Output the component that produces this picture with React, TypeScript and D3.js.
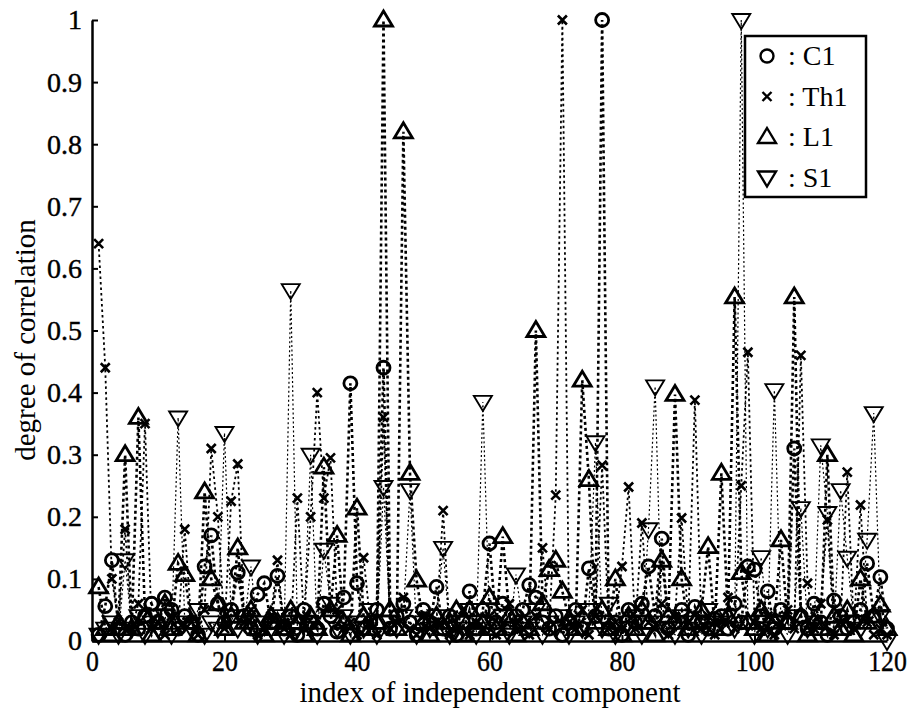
import React, { useRef, useEffect } from "react";
import * as d3 from "d3";

// degree of correlation per independent component (index 1..120)
const c1Values = [
  0.01, 0.056, 0.13, 0.02, 0.01, 0.03, 0.02, 0.04, 0.06, 0.03,
  0.07, 0.05, 0.02, 0.04, 0.03, 0.01, 0.12, 0.17, 0.06, 0.03,
  0.05, 0.11, 0.04, 0.02, 0.075, 0.093, 0.03, 0.105, 0.02, 0.04,
  0.01, 0.05, 0.03, 0.02, 0.06, 0.04, 0.015, 0.07, 0.415, 0.093,
  0.02, 0.03, 0.05, 0.44, 0.02, 0.04, 0.06, 0.03, 0.01, 0.05,
  0.03, 0.087, 0.02, 0.04, 0.01, 0.03, 0.08, 0.02, 0.05, 0.157,
  0.03, 0.06, 0.02, 0.04, 0.05, 0.09, 0.07, 0.03, 0.02, 0.04,
  0.01, 0.03, 0.05, 0.02, 0.117, 0.04, 1.0, 0.02, 0.03, 0.01,
  0.05, 0.03, 0.06, 0.12, 0.04, 0.165, 0.02, 0.03, 0.05, 0.01,
  0.055, 0.03, 0.02, 0.035, 0.04, 0.02, 0.06, 0.03, 0.12, 0.115,
  0.04, 0.08, 0.02, 0.05, 0.03, 0.31, 0.04, 0.02, 0.06, 0.03,
  0.01, 0.065, 0.04, 0.02, 0.03, 0.05, 0.125, 0.04, 0.103, 0.02,
];

const th1Values = [
  0.64, 0.44, 0.1, 0.03, 0.18, 0.02, 0.06, 0.35, 0.02, 0.03,
  0.01, 0.04, 0.02, 0.18, 0.03, 0.01, 0.05, 0.31, 0.2, 0.02,
  0.225, 0.285, 0.03, 0.05, 0.01, 0.02, 0.04, 0.13, 0.02, 0.01,
  0.23, 0.03, 0.2, 0.4, 0.23, 0.295, 0.05, 0.02, 0.03, 0.01,
  0.134, 0.03, 0.01, 0.36, 0.02, 0.03, 0.07, 0.02, 0.01, 0.04,
  0.02, 0.03, 0.21, 0.01, 0.02, 0.05, 0.01, 0.03, 0.02, 0.04,
  0.01, 0.02, 0.06, 0.03, 0.02, 0.01, 0.04, 0.15, 0.02, 0.235,
  1.0, 0.03, 0.02, 0.05, 0.01, 0.04, 0.283, 0.02, 0.03, 0.12,
  0.248, 0.02, 0.19, 0.03, 0.02, 0.06, 0.01, 0.04, 0.198, 0.03,
  0.388, 0.02, 0.04, 0.01, 0.03, 0.07, 0.02, 0.25, 0.465, 0.03,
  0.02, 0.04, 0.01, 0.03, 0.05, 0.02, 0.46, 0.093, 0.02, 0.06,
  0.195, 0.01, 0.03, 0.272, 0.02, 0.219, 0.03, 0.01, 0.02, 0.01,
];

const l1Values = [
  0.087, 0.02, 0.01, 0.03, 0.3, 0.02, 0.36, 0.04, 0.01, 0.03,
  0.06, 0.02, 0.125, 0.107, 0.03, 0.01, 0.24, 0.1, 0.06, 0.02,
  0.04, 0.15, 0.03, 0.05, 0.02, 0.01, 0.04, 0.03, 0.02, 0.05,
  0.03, 0.01, 0.04, 0.02, 0.28, 0.05, 0.17, 0.03, 0.01, 0.214,
  0.04, 0.02, 0.03, 1.0, 0.05, 0.02, 0.82, 0.27, 0.098, 0.03,
  0.01, 0.04, 0.02, 0.03, 0.05, 0.01, 0.05, 0.02, 0.03, 0.07,
  0.02, 0.168, 0.04, 0.01, 0.03, 0.02, 0.5, 0.06, 0.115, 0.13,
  0.08, 0.035, 0.02, 0.42, 0.26, 0.03, 0.05, 0.02, 0.1, 0.01,
  0.04, 0.02, 0.05, 0.03, 0.01, 0.13, 0.04, 0.397, 0.1, 0.02,
  0.03, 0.05, 0.152, 0.02, 0.27, 0.04, 0.554, 0.11, 0.03, 0.02,
  0.05, 0.01, 0.03, 0.163, 0.03, 0.554, 0.04, 0.01, 0.03, 0.02,
  0.3, 0.04, 0.02, 0.05, 0.01, 0.1, 0.03, 0.04, 0.058, 0.02,
];

const s1Values = [
  0.01, 0.02, 0.03, 0.01, 0.13, 0.02, 0.04, 0.01, 0.03, 0.02,
  0.04, 0.01, 0.36, 0.03, 0.02, 0.05, 0.01, 0.03, 0.02, 0.335,
  0.04, 0.02, 0.03, 0.12, 0.01, 0.03, 0.02, 0.04, 0.01, 0.565,
  0.02, 0.03, 0.3, 0.01, 0.147, 0.06, 0.02, 0.04, 0.01, 0.03,
  0.02, 0.05, 0.01, 0.248, 0.03, 0.02, 0.04, 0.243, 0.01, 0.03,
  0.02, 0.04, 0.15, 0.01, 0.03, 0.02, 0.05, 0.01, 0.385, 0.03,
  0.02, 0.04, 0.01, 0.107, 0.03, 0.02, 0.05, 0.01, 0.03, 0.02,
  0.04, 0.01, 0.03, 0.02, 0.05, 0.32, 0.02, 0.06, 0.01, 0.03,
  0.02, 0.04, 0.01, 0.18, 0.41, 0.03, 0.02, 0.01, 0.04, 0.02,
  0.03, 0.01, 0.05, 0.02, 0.03, 0.04, 0.02, 1.0, 0.03, 0.01,
  0.135, 0.02, 0.404, 0.03, 0.01, 0.04, 0.214, 0.02, 0.03, 0.315,
  0.206, 0.02, 0.243, 0.134, 0.03, 0.02, 0.163, 0.367, 0.04, 0.0,
];

const seriesNames = ["C1", "Th1", "L1", "S1"];
const xTicks = [0, 20, 40, 60, 80, 100, 120];
const yTicks = [0, 0.1, 0.2, 0.3, 0.4, 0.5, 0.6, 0.7, 0.8, 0.9, 1];

const W = 908;
const H = 711;
const FONT = "'Liberation Serif', 'DejaVu Serif', serif";

// marker path around (0,0)
const markerPath = (kind: string) => {
  if (kind === "circle") return d3.arc()({ innerRadius: 0, outerRadius: 6.5, startAngle: 0, endAngle: 2 * Math.PI }) as string;
  if (kind === "x") return "M-4.5,-4.5L4.5,4.5M-4.5,4.5L4.5,-4.5";
  if (kind === "up") return "M0,-9L9,6L-9,6Z";
  return "M0,9L9,-6L-9,-6Z";
};

export default function App() {
  const chartRef = useRef<SVGSVGElement>(null);

  useEffect(() => {
    const svg = d3.select(chartRef.current);
    svg.selectAll("*").remove();

    const x = d3.scaleLinear().domain([0, 120]).range([92, 887]);
    const y = d3.scaleLinear().domain([0, 1]).range([641, 20]);

    const series = [
      { name: seriesNames[0], values: c1Values, marker: "circle", lw: 2.6, dash: "3,3", mw: 2.8 },
      { name: seriesNames[1], values: th1Values, marker: "x", lw: 1.8, dash: "2.5,3", mw: 2.6 },
      { name: seriesNames[2], values: l1Values, marker: "up", lw: 2.6, dash: "3,3", mw: 2.8 },
      { name: seriesNames[3], values: s1Values, marker: "down", lw: 1.2, dash: "2,2.5", mw: 1.9 },
    ];

    const line = d3
      .line<number>()
      .x((d, i) => x(i + 1))
      .y((d) => y(d));

    series.forEach((s) => {
      const g = svg.append("g");
      g.append("path")
        .attr("d", line(s.values))
        .attr("fill", "none")
        .attr("stroke", "#000")
        .attr("stroke-width", s.lw)
        .attr("stroke-dasharray", s.dash);

      g.selectAll("path.mk")
        .data(s.values)
        .enter()
        .append("path")
        .attr("class", "mk")
        .attr("transform", (d, i) => `translate(${x(i + 1)},${y(d)})`)
        .attr("d", markerPath(s.marker))
        .attr("fill", "none")
        .attr("stroke", "#000")
        .attr("stroke-width", s.mw);
    });

    // axes, ticks pointing inward
    const yAxis = svg
      .append("g")
      .attr("transform", `translate(${x(0)},0)`)
      .call(
        d3.axisLeft(y)
          .tickValues(yTicks)
          .tickSizeInner(-6)
          .tickSizeOuter(0)
          .tickPadding(10)
          .tickFormat((d) => (d === 0 || d === 1 ? String(d) : d3.format(".1f")(d as number)))
      );

    const xAxis = svg
      .append("g")
      .attr("transform", `translate(0,${y(0)})`)
      .call(
        d3.axisBottom(x)
          .tickValues(xTicks)
          .tickSizeInner(-6)
          .tickSizeOuter(0)
          .tickPadding(9)
      );

    [yAxis, xAxis].forEach((a) => {
      a.select(".domain").attr("stroke-width", 2.5);
      a.selectAll(".tick line").attr("stroke-width", 2);
      a.selectAll("text")
        .attr("font-family", FONT)
        .attr("fill", "#000")
        .attr("stroke", "#000")
        .attr("stroke-width", 0.4);
    });
    yAxis.selectAll("text").attr("font-size", 28);
    // scanned labels are narrow: squeeze horizontally around the tick
    xAxis.selectAll("text").attr("font-size", 30).attr("transform", "scale(0.86,1)");

    // axis titles
    svg.append("text")
      .attr("x", 490)
      .attr("y", 702)
      .attr("text-anchor", "middle")
      .attr("font-family", FONT)
      .attr("font-size", 29)
      .text("index of independent component");

    svg.append("text")
      .attr("transform", `translate(35,340) rotate(-90)`)
      .attr("text-anchor", "middle")
      .attr("font-family", FONT)
      .attr("font-size", 29)
      .text("degree of correlation");

    // legend
    const legend = svg.append("g");
    legend.append("rect")
      .attr("x", 745)
      .attr("y", 36)
      .attr("width", 121)
      .attr("height", 161)
      .attr("fill", "#fff")
      .attr("stroke", "#000")
      .attr("stroke-width", 2.5);

    series.forEach((s, i) => {
      const ly = 56 + i * 40.5;
      legend.append("path")
        .attr("transform", `translate(767,${ly})`)
        .attr("d", markerPath(s.marker))
        .attr("fill", "none")
        .attr("stroke", "#000")
        .attr("stroke-width", 2.4);
      legend.append("text")
        .attr("x", 788)
        .attr("y", ly + 9)
        .attr("font-family", FONT)
        .attr("font-size", 28)
        .text(`: ${s.name}`);
    });
  }, []);

  return (
    <svg
      ref={chartRef}
      width={W}
      height={H}
      style={{ position: "absolute", left: 0, top: 0, background: "#fff" }}
    ></svg>
  );
}
